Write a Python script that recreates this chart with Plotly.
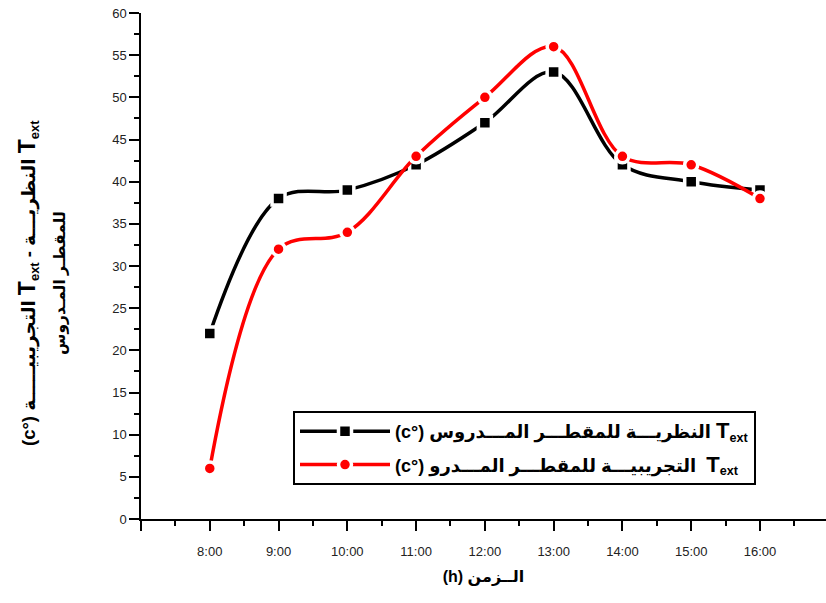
import plotly.graph_objects as go

# Hours of the day (decimal) and their labels
hours = [8, 9, 10, 11, 12, 13, 14, 15, 16]
hour_labels = ["8:00", "9:00", "10:00", "11:00", "12:00", "13:00", "14:00", "15:00", "16:00"]

# Outlet temperature of the studied still (°C)
t_theoretical = [22, 38, 39, 42, 47, 53, 42, 40, 39]
t_experimental = [6, 32, 34, 43, 50, 56, 43, 42, 38]

y_ticks = list(range(0, 61, 5))

FONT = "Liberation Sans, Arial, DejaVu Sans, sans-serif"

name_theo = ("(c°) النظريـــة للمقطـــر المـــدروس "
             "<span style='font-size:22px'>T</span><sub>ext</sub>")
name_exp = ("(c°) التجريبيـــة للمقطـــر المـــدرو  "
            "<span style='font-size:22px'>T</span><sub>ext</sub>")

fig = go.Figure()
fig.add_trace(go.Scatter(
    x=hours, y=t_theoretical, name=name_theo, legendgroup="theo",
    mode="lines+markers",
    line=dict(color="black", width=3.5, shape="spline", smoothing=1.0),
    marker=dict(symbol="square", size=13, color="black",
                line=dict(color="white", width=3.5)),
))
fig.add_trace(go.Scatter(
    x=hours, y=t_experimental, name=name_exp, legendgroup="exp",
    mode="lines+markers",
    line=dict(color="red", width=3.5, shape="spline", smoothing=1.0),
    marker=dict(symbol="circle", size=13, color="red",
                line=dict(color="white", width=3.5)),
))

axis_common = dict(
    showline=True, linecolor="black", linewidth=1.5,
    ticks="outside", tickcolor="black", tickwidth=1.5, ticklen=10,
    showgrid=False, zeroline=False,
    tickfont=dict(family=FONT, size=13, color="#222"),
)

fig.update_xaxes(
    range=[7, 16.96],
    tickmode="array",
    tickvals=[7] + hours,
    ticktext=[""] + hour_labels,
    ticklabelstandoff=10,
    minor=dict(ticks="outside", ticklen=5, tickcolor="black", tickwidth=1.5, dtick=0.5, tick0=7),
    title=dict(text="<b>(h) الــزمن</b>", font=dict(family=FONT, size=16, color="black"), standoff=12),
    **axis_common,
)
fig.update_yaxes(
    range=[0, 60],
    tickmode="array",
    tickvals=y_ticks,
    ticktext=[str(v) for v in y_ticks],
    minor=dict(ticks="outside", ticklen=5, tickcolor="black", tickwidth=1.5, dtick=2.5, tick0=0),
    **axis_common,
)

# Rotated two-line y-axis title
fig.add_annotation(
    xref="paper", yref="paper", x=(28 - 141) / 685, y=(519 - 283) / 506,
    text="<b>(c°) التجريبيـــــة <span style='font-size:23px'>T</span><sub>ext</sub> - النظريـــة "
         "<span style='font-size:23px'>T</span><sub>ext</sub></b>",
    textangle=-90, showarrow=False, xanchor="center", yanchor="middle",
    font=dict(family=FONT, size=18.5, color="black"),
)
fig.add_annotation(
    xref="paper", yref="paper", x=(60 - 141) / 685, y=(519 - 283) / 506,
    text="<b>للمقطـر المـدروس</b>",
    textangle=-90, showarrow=False, xanchor="center", yanchor="middle",
    font=dict(family=FONT, size=15.5, color="black"),
)

fig.update_layout(
    width=826, height=603,
    margin=dict(l=141, r=0, t=13, b=84),
    paper_bgcolor="white", plot_bgcolor="white",
    showlegend=True,
    legend=dict(
        x=(293 - 141) / 685, y=(519 - 411) / 506,
        xanchor="left", yanchor="top",
        bordercolor="black", borderwidth=2, bgcolor="white",
        font=dict(family=FONT, size=18, color="black", weight="bold"),
        itemwidth=90, tracegroupgap=7,
    ),
)

fig.write_html("out.html")
